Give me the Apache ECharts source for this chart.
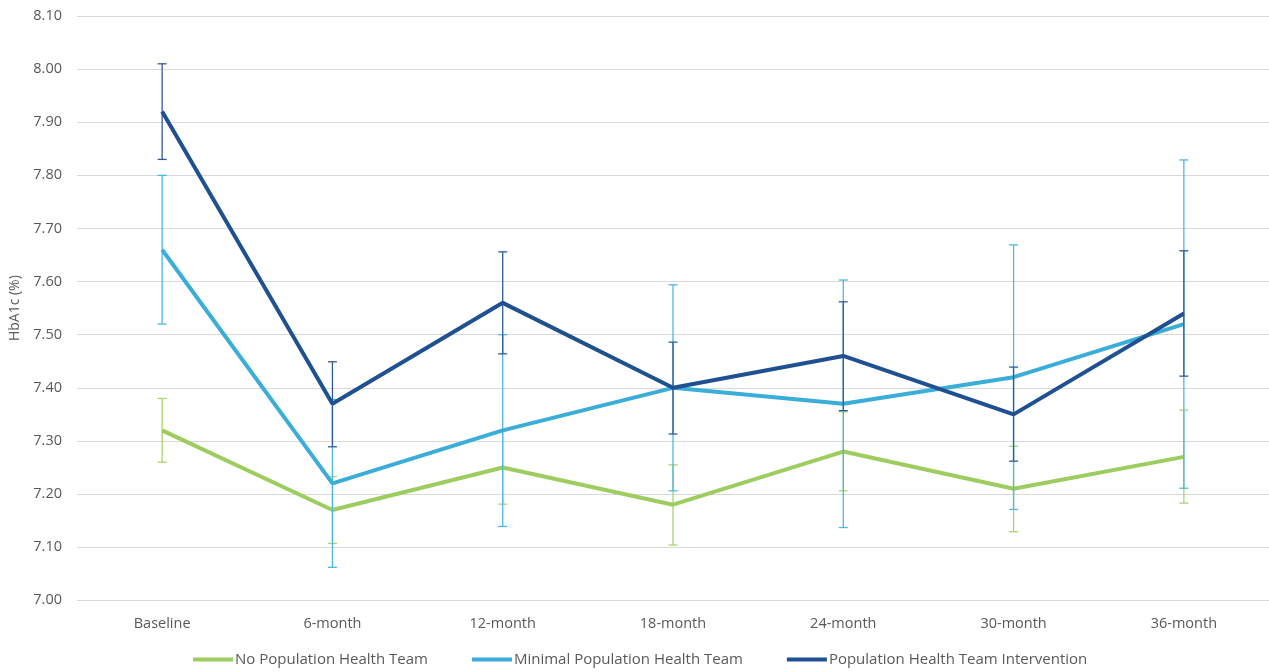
<!DOCTYPE html>
<html>
<head>
<meta charset="utf-8">
<script src="https://cdn.jsdelivr.net/npm/echarts@6/dist/echarts.min.js"></script>
<style>
  html, body { margin: 0; padding: 0; background: #fff; }
  #chart { width: 1269px; height: 672px; }
</style>
</head>
<body>
<div id="chart"></div>
<script>
// HbA1c over time by population health team exposure, with error bars
const categories = ['Baseline', '6-month', '12-month', '18-month', '24-month', '30-month', '36-month'];
const seriesNames = ['No Population Health Team', 'Minimal Population Health Team', 'Population Health Team Intervention'];

const noTeam      = [7.32, 7.17, 7.25, 7.18, 7.28, 7.21, 7.27];
const noTeamLow   = [7.26, 7.107, 7.181, 7.104, 7.206, 7.129, 7.183];
const noTeamHigh  = [7.38, 7.233, 7.319, 7.255, 7.355, 7.29, 7.358];

const minimal     = [7.66, 7.22, 7.32, 7.40, 7.37, 7.42, 7.52];
const minimalLow  = [7.52, 7.062, 7.139, 7.206, 7.137, 7.171, 7.211];
const minimalHigh = [7.80, 7.378, 7.50, 7.594, 7.603, 7.669, 7.829];

const interv      = [7.92, 7.37, 7.56, 7.40, 7.46, 7.35, 7.54];
const intervLow   = [7.83, 7.289, 7.464, 7.313, 7.357, 7.262, 7.422];
const intervHigh  = [8.01, 7.449, 7.656, 7.486, 7.562, 7.439, 7.658];

const yTicks = { min: 7.0, max: 8.1, interval: 0.1 };

const lineColors = ['#9DCD5E', '#3AADD9', '#1F5091'];
const barColors  = ['#A9D46E', '#4DB8E0', '#2E5C9A'];

const fontFamily = '"Open Sans", "Noto Sans", sans-serif';

function errorBarSeries(id, low, high, color, z) {
  return {
    type: 'custom',
    id: id,
    z: z,
    silent: true,
    data: categories.map((c, i) => [i, low[i], high[i]]),
    renderItem: function (params, api) {
      const x = api.value(0);
      const lo = api.coord([x, api.value(1)]);
      const hi = api.coord([x, api.value(2)]);
      const half = 4.5;
      const st = { stroke: color, lineWidth: 1.3 };
      return {
        type: 'group',
        children: [
          { type: 'line', shape: { x1: lo[0], y1: lo[1], x2: hi[0], y2: hi[1] }, style: st },
          { type: 'line', shape: { x1: hi[0] - half, y1: hi[1], x2: hi[0] + half, y2: hi[1] }, style: st },
          { type: 'line', shape: { x1: lo[0] - half, y1: lo[1], x2: lo[0] + half, y2: lo[1] }, style: st }
        ]
      };
    }
  };
}

function lineSeries(name, data, color, z) {
  return {
    type: 'line',
    name: name,
    z: z,
    data: data,
    symbol: 'none',
    color: color,
    lineStyle: { color: color, width: 4 },
    itemStyle: { color: color }
  };
}

const chart = echarts.init(document.getElementById('chart'), null, { renderer: 'canvas' });
chart.setOption({
  animation: false,
  backgroundColor: '#ffffff',
  textStyle: { fontFamily: fontFamily },
  grid: { left: 77, top: 16, width: 1195, height: 584.3, containLabel: false },
  legend: {
    bottom: 0,
    left: 188,
    padding: [5, 5, 5, 5],
    data: seriesNames,
    icon: 'rect',
    itemWidth: 40,
    itemHeight: 4,
    itemGap: 44,
    textStyle: { color: '#595959', fontSize: 15, fontFamily: fontFamily, padding: [0, 0, 0, -3] }
  },
  xAxis: {
    type: 'category',
    data: categories,
    boundaryGap: true,
    axisLine: { show: false },
    axisTick: { show: false },
    axisLabel: { color: '#595959', fontSize: 14.5, margin: 16, fontFamily: fontFamily }
  },
  yAxis: {
    type: 'value',
    min: yTicks.min,
    max: yTicks.max,
    interval: yTicks.interval,
    name: 'HbA1c (%)',
    nameLocation: 'middle',
    nameGap: 53,
    nameRotate: 90,
    nameTextStyle: { color: '#595959', fontSize: 14, fontFamily: fontFamily },
    axisLine: { show: false },
    axisTick: { show: false },
    axisLabel: {
      color: '#595959', fontSize: 14.5, margin: 15, fontFamily: fontFamily,
      formatter: v => v.toFixed(2)
    },
    splitLine: { lineStyle: { color: '#d9d9d9', width: 1 } }
  },
  series: [
    errorBarSeries('noTeamError', noTeamLow, noTeamHigh, barColors[0], 1),
    lineSeries(seriesNames[0], noTeam, lineColors[0], 2),
    errorBarSeries('minimalError', minimalLow, minimalHigh, barColors[1], 3),
    lineSeries(seriesNames[1], minimal, lineColors[1], 4),
    errorBarSeries('intervError', intervLow, intervHigh, barColors[2], 5),
    lineSeries(seriesNames[2], interv, lineColors[2], 6)
  ]
});
</script>
</body>
</html>
